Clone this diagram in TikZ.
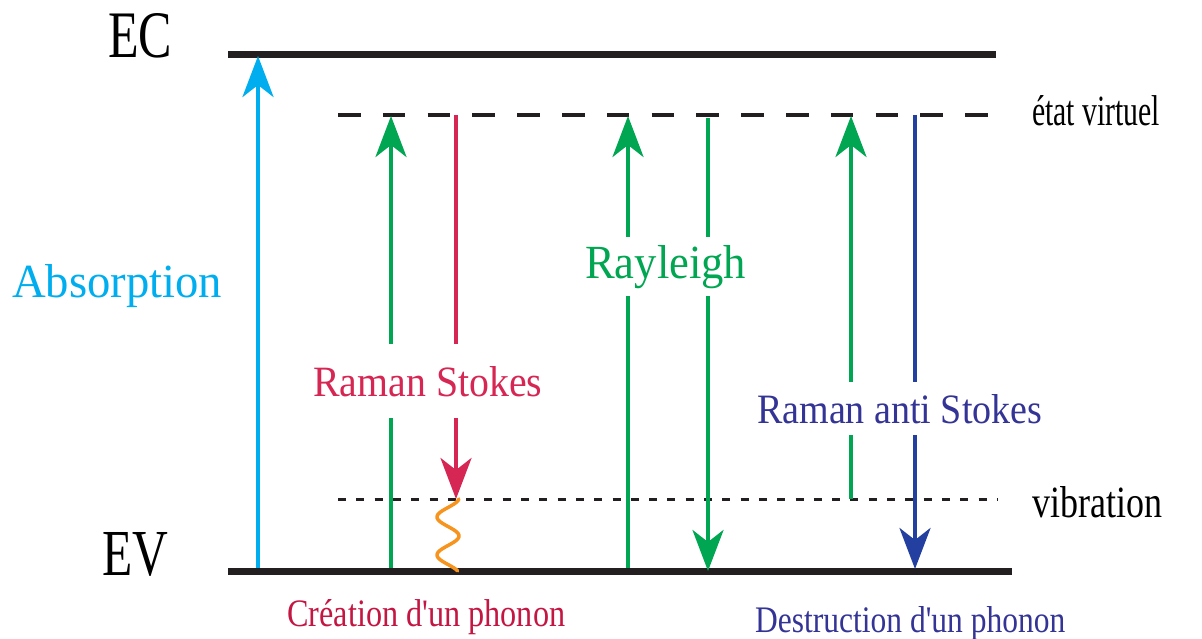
\documentclass[tikz,border=0pt]{standalone}
\usepackage{fontspec}
\setmainfont{Liberation Serif}
\usepackage{graphicx}
\usetikzlibrary{arrows.meta}
\definecolor{cyanA}{RGB}{0,174,239}
\definecolor{greenA}{RGB}{0,166,81}
\definecolor{redA}{RGB}{214,39,84}
\definecolor{redB}{RGB}{196,22,66}
\definecolor{blueA}{RGB}{35,64,160}
\definecolor{blueB}{RGB}{52,52,150}
\definecolor{orangeA}{RGB}{247,148,29}
\definecolor{darkA}{RGB}{35,31,32}
\newcommand{\fitT}[3]{\resizebox{#1pt}{#2pt}{#3}}
\begin{document}
\begin{tikzpicture}[x=1pt,y=-1pt,
  level/.style={line width=7pt,darkA},
  virt/.style={line width=3.3pt,darkA,dash pattern=on 22.5pt off 22.3pt},
  vib/.style={line width=3pt,darkA,dash pattern=on 8pt off 10.3pt},
  tr/.style={line width=4pt,-{Stealth[length=41pt,width=31pt,inset=12pt]}},
  txt/.style={inner sep=0pt,anchor=base west}
]
\useasboundingbox (0,0) rectangle (1202,639);
% levels
\coordinate (ecL) at (228,54.5); \coordinate (ecR) at (996,54.5);
\coordinate (evL) at (228,571.5); \coordinate (evR) at (1012,571.5);
\coordinate (viL) at (338,115); \coordinate (viR) at (998,115);
\coordinate (vbL) at (338,499); \coordinate (vbR) at (998,499);
\draw[level] (ecL) -- (ecR);
\draw[level] (evL) -- (evR);
\draw[virt] (viL) -- (viR);
\draw[vib] (vbL) -- (vbR);
% transitions
\coordinate (a0) at (258,568); \coordinate (a1) at (258,56);
\coordinate (s0) at (391,568); \coordinate (s1) at (391,116);
\coordinate (r0) at (456,115); \coordinate (r1) at (456,499);
\coordinate (y0) at (628,568); \coordinate (y1) at (628,116);
\coordinate (y2) at (708,118); \coordinate (y3) at (708,571);
\coordinate (t0) at (851,499); \coordinate (t1) at (851,116);
\coordinate (b0) at (915,115); \coordinate (b1) at (915,569);
\draw[tr,cyanA] (a0) -- (a1);
\draw[tr,greenA] (s0) -- (s1);
\draw[tr,redA] (r0) -- (r1);
\draw[tr,greenA] (y0) -- (y1);
\draw[tr,greenA] (y2) -- (y3);
\draw[tr,greenA] (t0) -- (t1);
\draw[tr,blueA] (b0) -- (b1);
% phonon wiggle
\draw[orangeA,line width=3.5pt,line cap=round] plot[domain=-18:54,samples=80,smooth]
  ({448+11*cos(180+9.4737*\x)},{517+\x});
% labels
\node[txt] (ec) at (108,58) {\fitT{64}{44}{EC}};
\node[txt] (ev) at (102,575) {\fitT{66}{43}{EV}};
\node[txt,text=cyanA] (abs) at (12,298) {\fitT{210}{33}{Absorption}};
\node[txt,text=greenA,fill=white,inner xsep=4pt,inner ysep=8pt] (ray) at (581,278) {\fitT{161}{33}{Rayleigh}};
\node[txt,text=redA,fill=white,inner xsep=4pt,inner ysep=22pt] (rs) at (309,396) {\fitT{229}{30}{Raman Stokes}};
\node[txt,text=blueB,fill=white,inner xsep=4pt,inner ysep=12pt] (ras) at (753,423) {\fitT{285}{29}{Raman anti Stokes}};
\node[txt,text=redB] (cre) at (287,626) {\fitT{278}{27}{Création d\textquotesingle un phonon}};
\node[txt,text=blueB] (des) at (755,632) {\fitT{310}{26}{Destruction d\textquotesingle un phonon}};
\node[txt] (etat) at (1032,126) {\fitT{128}{30}{état virtuel}};
\node[txt] (vib) at (1032,517) {\fitT{130}{31}{vibration}};
\end{tikzpicture}
\end{document}
